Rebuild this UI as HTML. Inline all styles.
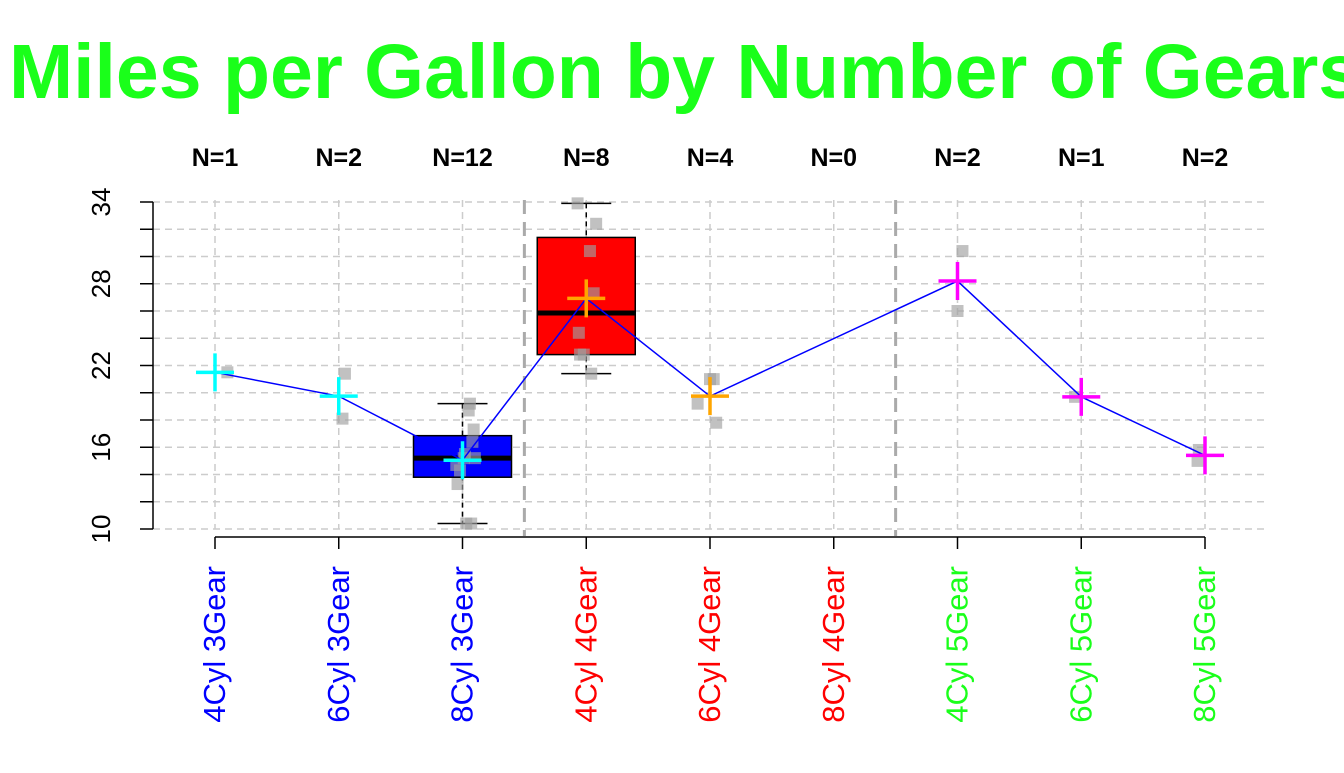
<!DOCTYPE html>
<html><head><meta charset="utf-8"><style>
body{margin:0;background:#fff;width:1344px;height:768px;overflow:hidden}
svg{font-family:"Liberation Sans",Arial,sans-serif}
</style></head><body>
<svg id="chart" width="1344" height="768" viewBox="0 0 1344 768" xmlns="http://www.w3.org/2000/svg">
<text x="9" y="98" font-size="77" font-weight="bold" fill="#1aff1a">Miles per Gallon by Number of Gears</text>
<g id="grid"></g><g id="marks"></g><g id="axes"></g>
</svg>
<script>
const categories=["4Cyl 3Gear","6Cyl 3Gear","8Cyl 3Gear","4Cyl 4Gear","6Cyl 4Gear","8Cyl 4Gear","4Cyl 5Gear","6Cyl 5Gear","8Cyl 5Gear"];
const gearOfCat=[3,3,3,4,4,4,5,5,5];
const groupValues=[
 [21.5],
 [21.4,18.1],
 [18.7,14.3,16.4,17.3,15.2,10.4,10.4,14.7,15.5,15.2,13.3,19.2],
 [24.4,22.8,32.4,30.4,33.9,27.3,21.4,22.8],
 [21.0,21.0,19.2,17.8],
 [],
 [26.0,30.4],
 [19.7],
 [15.8,15.0]
];
const jitter=[[0.1],[0.05,0.03],[0.05,-0.02,0.08,0.09,0.1,0.03,0.07,-0.05,0.02,0.01,-0.04,0.06],[-0.06,-0.02,0.08,0.03,-0.07,0.06,0.04,-0.05],[0.0,0.03,-0.1,0.05],[],[0.0,0.04],[-0.05],[-0.05,-0.06]];
const yTicks=[10,16,22,28,34];
const gearColors={3:"#0000ff",4:"#ff0000",5:"#1aff1a"};
const meanColors={3:"#00ffff",4:"#ffa500",5:"#ff00ff"};
const NS="http://www.w3.org/2000/svg";
const X=i=>215+i*123.75, Y=v=>529-(v-10)*13.625;
function mk(tag,attrs,parent,text){const e=document.createElementNS(NS,tag);for(const k in attrs)e.setAttribute(k,attrs[k]);if(text!==undefined)e.textContent=text;document.getElementById(parent).appendChild(e);return e;}
function fivenum(a){const s=[...a].sort((x,y)=>x-y),n=s.length;const n4=Math.floor((n+3)/2)/2;const d=[1,n4,(n+1)/2,n+1-n4,n];return d.map(v=>0.5*(s[Math.floor(v)-1]+s[Math.ceil(v)-1]));}
for(let v=10;v<=34;v+=2){const l=mk("line",{x1:153,x2:1268,y1:Y(v),y2:Y(v),stroke:"#cccccc","stroke-width":1.5,"stroke-dasharray":"7,5"},"grid");}
categories.forEach((c,i)=>{const l=mk("line",{x1:X(i),x2:X(i),y1:200,y2:529,stroke:"#cccccc","stroke-width":1.5,"stroke-dasharray":"7,5"},"grid");});
[2.5,5.5].forEach(p=>{const l=mk("line",{x1:X(p),x2:X(p),y1:200,y2:536,stroke:"#aaaaaa","stroke-width":3,"stroke-dasharray":"14,8"},"grid");});
groupValues.forEach((vals,i)=>{
 if(vals.length<5)return;
 const f=fivenum(vals),cx=X(i),w=49,col=gearColors[gearOfCat[i]];
 const wl=mk("line",{x1:cx,x2:cx,y1:Y(f[4]),y2:Y(f[0]),stroke:"#000","stroke-width":1.5,"stroke-dasharray":"5,4"},"marks");
 [f[0],f[4]].forEach(v=>{const c=mk("line",{x1:cx-25,x2:cx+25,y1:Y(v),y2:Y(v),stroke:"#000","stroke-width":1.5},"marks");});
 const b=mk("rect",{x:cx-w,y:Y(f[3]),width:2*w,height:Y(f[1])-Y(f[3]),fill:col,stroke:"#000","stroke-width":1.5},"marks");
 const m=mk("line",{x1:cx-w,x2:cx+w,y1:Y(f[2]),y2:Y(f[2]),stroke:"#000","stroke-width":5},"marks");
});
groupValues.forEach((vals,i)=>vals.forEach((v,j)=>{const p=mk("rect",{x:X(i+jitter[i][j])-6,y:Y(v)-6,width:12,height:12,fill:"rgba(160,160,160,0.65)"},"marks");}));
const means=groupValues.map(v=>v.length?v.reduce((a,b)=>a+b,0)/v.length:null);
const pts=means.map((m,i)=>m===null?null:X(i)+","+Y(m)).filter(Boolean).join(" ");
const ml=mk("polyline",{points:pts,fill:"none",stroke:"#0000ff","stroke-width":1.5},"marks");
means.forEach((m,i)=>{if(m===null)return;const g=mk("path",{d:`M${X(i)-19},${Y(m)}h38M${X(i)},${Y(m)-19}v38`,stroke:meanColors[gearOfCat[i]],"stroke-width":3.5},"marks");});
const ya=mk("line",{x1:153,x2:153,y1:Y(10),y2:Y(34),stroke:"#000","stroke-width":1.5},"axes");
for(let v=10;v<=34;v+=2){const t=mk("line",{x1:140,x2:153,y1:Y(v),y2:Y(v),stroke:"#000","stroke-width":1.5},"axes");}
yTicks.forEach(v=>{const t=mk("text",{x:0,y:0,transform:`translate(110,${Y(v)}) rotate(-90)`,"text-anchor":"middle","font-size":26,fill:"#000"},"axes",String(v));});
const xa=mk("line",{x1:X(0),x2:X(8),y1:537,y2:537,stroke:"#000","stroke-width":1.5},"axes");
categories.forEach((c,i)=>{
 const t=mk("line",{x1:X(i),x2:X(i),y1:537,y2:549,stroke:"#000","stroke-width":1.5},"axes");
 const l=mk("text",{x:0,y:0,transform:`translate(${X(i)+10},566) rotate(-90)`,"text-anchor":"end","font-size":31,fill:gearColors[gearOfCat[i]]},"axes",c);
 const n=mk("text",{x:X(i),y:166,"text-anchor":"middle","font-size":25,"font-weight":"bold",fill:"#000"},"axes","N="+groupValues[i].length);
});
</script>
</body></html>
